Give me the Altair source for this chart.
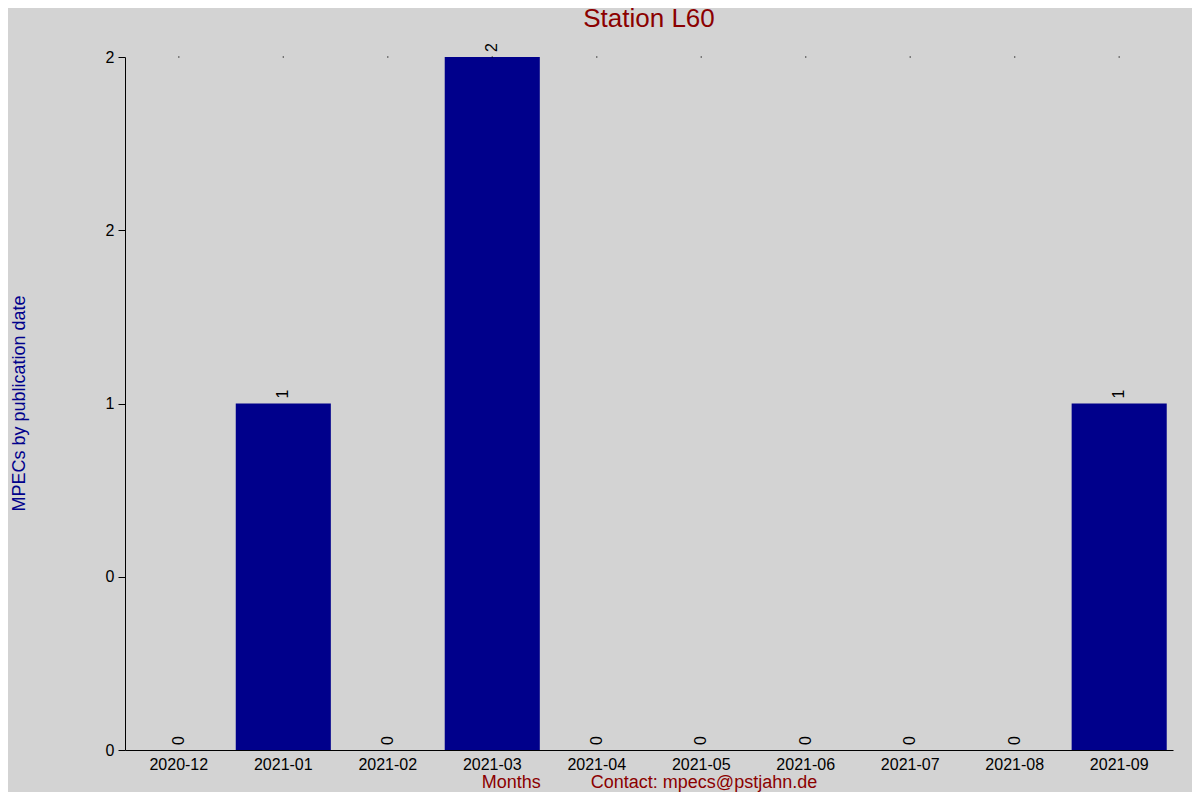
import altair as alt
import pandas as pd

months = ["2020-12", "2021-01", "2021-02", "2021-03", "2021-04",
          "2021-05", "2021-06", "2021-07", "2021-08", "2021-09"]
counts = [0, 1, 0, 2, 0, 0, 0, 0, 0, 1]
y_tick_values = [0, 0.5, 1, 1.5, 2]
title_text = ["Station L60"]

df = pd.DataFrame({"month": months, "count": counts})

FONT = "Liberation Sans"
BAR = "#00008B"
RED = "#8B0000"

x_enc = alt.X("month:N", sort=months,
              scale=alt.Scale(paddingInner=0.09, paddingOuter=0.06),
              axis=alt.Axis(title="Months\u00a0\u00a0\u00a0\u00a0\u00a0\u00a0\u00a0\u00a0\u00a0\u00a0Contact: mpecs@pstjahn.de",
                            titleColor=RED, titleFont=FONT, titleFontSize=18,
                            titleFontWeight="normal",
                            titleX=524, titleY=32, titleAlign="center",
                            titleBaseline="middle",
                            labelAngle=0, labelFont=FONT, labelFontSize=16,
                            labelColor="black", labelPadding=6,
                            ticks=False, domainColor="black", grid=False))

bars = alt.Chart(df).mark_bar(color=BAR).encode(
    x=x_enc,
    y=alt.Y("count:Q", scale=alt.Scale(domain=[0, 2], nice=False),
            axis=alt.Axis(title="MPECs by publication date", values=y_tick_values,
                          labelExpr="datum.value < 0.75 ? '0' : (datum.value < 1.25 ? '1' : '2')",
                          titleColor=BAR, titleFont=FONT, titleFontSize=18,
                          titleFontWeight="normal", titleAngle=-90,
                          titleX=-106, titleY=346, titleAlign="center",
                          titleBaseline="middle",
                          labelFont=FONT, labelFontSize=16, labelColor="black",
                          labelPadding=4, tickSize=7, tickColor="black",
                          domainColor="black", grid=False)),
)

labels = alt.Chart(df).mark_text(angle=270, align="left", baseline="middle",
                                 dx=5, font=FONT, fontSize=16, color="black").encode(
    x=alt.X("month:N", sort=months),
    y="count:Q",
    text="count:Q",
)

dots = alt.Chart(df).mark_square(size=1.5, color="black", opacity=1).encode(
    x=alt.X("month:N", sort=months),
    y=alt.value(0),
)

title = alt.Chart(pd.DataFrame({"t": title_text})).mark_text(
    font=FONT, fontSize=26, color=RED, align="center", baseline="alphabetic"
).encode(text="t:N", x=alt.value(524), y=alt.value(-30))

chart = alt.layer(bars, labels, dots, title).properties(
    width=1048, height=693,
    background="#D3D3D3",
    padding={"left": 117, "top": 49, "right": 19, "bottom": 42},
    autosize=alt.AutoSizeParams(type="none"),
).configure_view(stroke=None)

chart.save("out.html", embed_options={"renderer": "svg", "actions": False})
